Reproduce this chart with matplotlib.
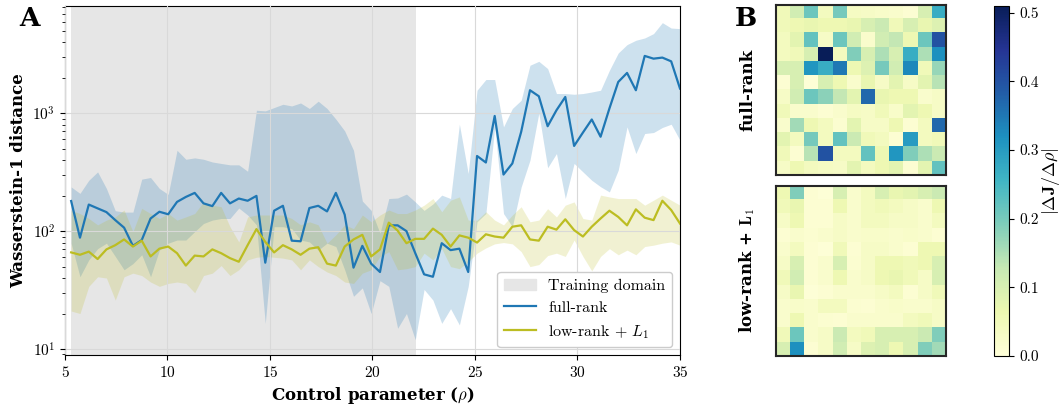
import numpy as np
import matplotlib
matplotlib.use('Agg')
from matplotlib import pyplot as plt
from matplotlib.patches import Patch
from matplotlib.lines import Line2D

plt.rcParams['font.family'] = ['cmr10', 'DejaVu Serif']
plt.rcParams['mathtext.fontset'] = 'cm'
plt.rcParams['axes.formatter.use_mathtext'] = True
plt.rcParams['axes.unicode_minus'] = False

################################# DATA #################################

rho = np.linspace(5.3, 35, 70)
train_lo, train_hi = 5.3, 22.1

full_mean = [180, 88, 168, 156, 145, 124, 107, 75, 84, 128, 146, 139, 177, 195, 211, 172, 163, 211,
             172, 189, 181, 199, 54, 149, 164, 83, 82, 157, 164, 147, 211, 138, 49, 75, 53, 45, 112,
             112, 100, 65, 43, 41, 79, 69, 71, 45, 434, 382, 948, 302, 375, 695, 1567, 1394, 776,
             1060, 1374, 528, 686, 885, 632, 1097, 1842, 2197, 1567, 3064, 2904, 2965, 2756, 1620]
full_hi = [237, 209, 270, 318, 230, 149, 145, 145, 276, 285, 230, 205, 485, 407, 418, 407, 386, 375,
           365, 365, 322, 1060, 1047, 1117, 1191, 1153, 1222, 1097, 1265, 1097, 891, 708, 485, 180,
           150, 96, 189, 191, 206, 177, 150, 170, 202, 189, 807, 308, 1567, 1932, 1932, 766, 1097,
           1288, 2553, 2756, 2393, 1469, 1469, 1449, 1469, 1514, 1567, 2312, 3243, 3820, 4158, 4349,
           4736, 5867, 5280, 5220]
full_lo = [79, 41, 57, 71, 79, 61, 47, 53, 63, 41, 69, 79, 84, 84, 99, 116, 124, 128, 128, 157, 137,
           113, 16.5, 109, 109, 105, 84, 81, 69, 79, 74, 47, 28, 33, 20, 38, 34, 15, 20, 12, 32, 26,
           16.5, 22, 16, 34, 120, 141, 760, 141, 109, 237, 400, 1000, 345, 455, 189, 375, 318, 270,
           238, 215, 329, 766, 455, 673, 686, 757, 807, 590]

low_mean = [66, 63, 67, 58, 70, 76, 85, 74, 83, 61, 71, 74, 65, 51, 62, 61, 70, 65, 59, 55, 76, 104,
            81, 66, 76, 70, 63, 71, 73, 53, 51, 74, 85, 93, 61, 70, 118, 101, 79, 86, 86, 105, 93, 74,
            92, 88, 80, 94, 90, 88, 109, 112, 85, 83, 109, 103, 126, 102, 90, 109, 128, 149, 132,
            112, 153, 130, 124, 181, 151, 116]
low_hi = [150, 141, 128, 113, 124, 132, 151, 99, 156, 141, 128, 141, 124, 132, 141, 177, 166, 161,
          109, 81, 132, 137, 137, 137, 137, 128, 113, 120, 113, 79, 93, 113, 105, 137, 120, 137, 151,
          141, 141, 151, 166, 189, 146, 183, 195, 124, 124, 146, 124, 113, 137, 161, 120, 124, 155,
          132, 166, 177, 128, 124, 202, 195, 189, 189, 189, 166, 183, 202, 183, 166]
low_lo = [21, 20, 34, 41, 40, 26, 41, 44, 42, 37, 34, 36, 37, 36, 30, 42, 44, 51, 42, 47, 57, 60, 61,
          60, 59, 57, 47, 57, 50, 45, 42, 37, 36, 44, 47, 61, 67, 47, 48, 50, 65, 57, 71, 50, 48, 55,
          65, 72, 78, 80, 78, 67, 50, 52, 62, 65, 61, 84, 61, 46, 61, 71, 63, 69, 63, 74, 76, 79, 81,
          76]

# |dJ/drho| maps, 12x12
dJ_full = [
    [0.05, 0.11, 0.21, 0.04, 0.20, 0.035, 0.03, 0.025, 0.02, 0.01, 0.10, 0.27],
    [0.05, 0.06, 0.07, 0.06, 0.06, 0.07, 0.10, 0.12, 0.05, 0.10, 0.07, 0.09],
    [0.04, 0.08, 0.22, 0.03, 0.21, 0.11, 0.02, 0.11, 0.13, 0.06, 0.21, 0.40],
    [0.04, 0.05, 0.10, 0.51, 0.04, 0.19, 0.10, 0.15, 0.10, 0.27, 0.15, 0.32],
    [0.10, 0.10, 0.31, 0.27, 0.35, 0.06, 0.09, 0.20, 0.11, 0.33, 0.05, 0.17],
    [0.01, 0.10, 0.005, 0.10, 0.06, 0.02, 0.07, 0.03, 0.08, 0.03, 0.08, 0.14],
    [0.03, 0.11, 0.21, 0.18, 0.13, 0.08, 0.37, 0.07, 0.06, 0.06, 0.02, 0.03],
    [0.05, 0.02, 0.02, 0.01, 0.02, 0.035, 0.03, 0.05, 0.025, 0.08, 0.06, 0.03],
    [0.02, 0.16, 0.06, 0.04, 0.015, 0.08, 0.03, 0.03, 0.06, 0.01, 0.04, 0.37],
    [0.08, 0.04, 0.20, 0.04, 0.22, 0.12, 0.05, 0.04, 0.01, 0.30, 0.04, 0.05],
    [0.05, 0.01, 0.14, 0.40, 0.04, 0.04, 0.22, 0.06, 0.31, 0.19, 0.15, 0.12],
    [0.03, 0.06, 0.04, 0.035, 0.03, 0.08, 0.04, 0.06, 0.08, 0.01, 0.08, 0.22],
]
dJ_low = [
    [0.06, 0.19, 0.01, 0.005, 0.10, 0.02, 0.04, 0.10, 0.07, 0.08, 0.10, 0.12],
    [0.05, 0.07, 0.01, 0.01, 0.06, 0.02, 0.04, 0.05, 0.04, 0.03, 0.02, 0.06],
    [0.03, 0.06, 0.01, 0.01, 0.03, 0.02, 0.04, 0.04, 0.03, 0.03, 0.02, 0.04],
    [0.01, 0.02, 0.015, 0.02, 0.03, 0.02, 0.025, 0.025, 0.02, 0.025, 0.02, 0.01],
    [0.02, 0.04, 0.01, 0.005, 0.05, 0.01, 0.03, 0.03, 0.02, 0.01, 0.06, 0.06],
    [0.03, 0.10, 0.01, 0.02, 0.10, 0.015, 0.03, 0.06, 0.06, 0.05, 0.06, 0.10],
    [0.05, 0.11, 0.01, 0.02, 0.06, 0.02, 0.03, 0.06, 0.07, 0.05, 0.03, 0.10],
    [0.03, 0.07, 0.005, 0.01, 0.02, 0.02, 0.02, 0.03, 0.04, 0.01, 0.03, 0.05],
    [0.02, 0.025, 0.02, 0.04, 0.04, 0.015, 0.01, 0.02, 0.025, 0.02, 0.02, 0.03],
    [0.02, 0.06, 0.02, 0.015, 0.01, 0.02, 0.02, 0.02, 0.02, 0.04, 0.05, 0.03],
    [0.05, 0.21, 0.02, 0.03, 0.12, 0.04, 0.05, 0.10, 0.10, 0.10, 0.12, 0.19],
    [0.10, 0.32, 0.01, 0.03, 0.11, 0.03, 0.09, 0.10, 0.06, 0.10, 0.19, 0.16],
]
vmax = 0.51

########################################################################

c_full = '#1f77b4'
c_low = '#bcbd22'

fig = plt.figure(figsize=(10.62, 4.05), dpi=100)

# panel A
ax = fig.add_axes([0.0612, 0.1235, 0.5791, 0.8629])
ax.axvspan(train_lo, train_hi, color='0.9', lw=0, zorder=0)
ax.fill_between(rho, full_lo, full_hi, color=c_full, alpha=0.22, lw=0, zorder=1)
ax.fill_between(rho, low_lo, low_hi, color=c_low, alpha=0.2, lw=0, zorder=1)
ax.plot(rho, full_mean, color=c_full, lw=1.6, zorder=3)
ax.plot(rho, low_mean, color=c_low, lw=1.6, zorder=3)
ax.set_yscale('log')
ax.set_xlim(5, 35)
ax.set_ylim(8.9, 8200)
ax.grid(True, which='major', color='0.85', lw=0.8, zorder=2)
ax.set_axisbelow(False)
ax.tick_params(labelsize=11)
ax.set_xlabel(r'Control parameter ($\rho$)', fontsize=12, fontweight='bold',
              fontfamily='DejaVu Serif')
ax.set_ylabel('Wasserstein-1 distance', fontsize=12, fontweight='bold',
              fontfamily='DejaVu Serif')

handles = [Patch(color='0.9', label='Training domain'),
           Line2D([], [], color=c_full, lw=1.6, label='full-rank'),
           Line2D([], [], color=c_low, lw=1.6, label=r'low-rank + $L_1$')]
ax.legend(handles=handles, loc='lower right', fontsize=11.5, framealpha=1, fancybox=True)

fig.text(0.028, 0.955, 'A', fontsize=19, fontweight='bold', fontfamily='DejaVu Serif',
         ha='center', va='center')
fig.text(0.702, 0.955, 'B', fontsize=19, fontweight='bold', fontfamily='DejaVu Serif',
         ha='center', va='center')

# panel B
ax1 = fig.add_axes([0.7307, 0.5679, 0.16, 0.4198])
ax2 = fig.add_axes([0.7307, 0.121, 0.16, 0.4198])
im = ax1.imshow(np.array(dJ_full), cmap='YlGnBu', vmin=0, vmax=vmax, aspect='auto')
ax2.imshow(np.array(dJ_low), cmap='YlGnBu', vmin=0, vmax=vmax, aspect='auto')
for a, lab in [(ax1, 'full-rank'), (ax2, r'low-rank + $\mathbf{L_1}$')]:
    a.set_xticks([])
    a.set_yticks([])
    for s in a.spines.values():
        s.set_linewidth(1.5)
        s.set_color('0.15')
    a.set_ylabel(lab, fontsize=12, fontweight='bold', fontfamily='DejaVu Serif', labelpad=14)

cax = fig.add_axes([0.9363, 0.121, 0.0141, 0.865])
cbar = fig.colorbar(im, cax=cax, ticks=[0, 0.1, 0.2, 0.3, 0.4, 0.5])
cbar.ax.set_yticklabels(['0.0', '0.1', '0.2', '0.3', '0.4', '0.5'])
cbar.ax.tick_params(labelsize=11)
cbar.set_label(r'$|\Delta \mathbf{J} / \Delta \rho|$', fontsize=13, labelpad=1)

fig.savefig('out.png', dpi=100)
